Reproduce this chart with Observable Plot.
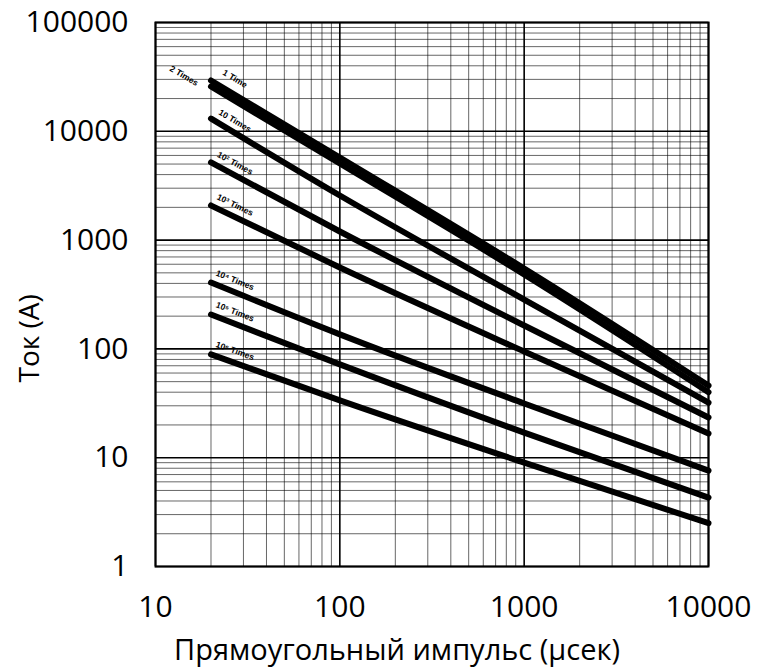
<!DOCTYPE html>
<html><head><meta charset="utf-8">
<script src="https://cdn.jsdelivr.net/npm/d3@7"></script>
<script src="https://cdn.jsdelivr.net/npm/@observablehq/plot@0.6"></script>
<style>body{margin:0;background:#fff;}</style>
</head><body><div id="chart"></div>
<script>
// Pulse width (µs) sample points
const pulseWidths = [20, 100, 1000, 10000];
// Series names
const seriesNames = ["1 Time", "2 Times", "10 Times", "10² Times", "10³ Times", "10⁴ Times", "10⁵ Times", "10⁶ Times"];
// Current (A) for each series at the pulse widths above
const time1    = [29300, 5740, 548, 46];
const times2   = [25800, 5060, 483, 40];
const times10  = [13100, 2570, 284, 32];
const times1e2 = [5170, 1200, 164, 23.4];
const times1e3 = [2080, 560, 94.6, 16.7];
const times1e4 = [407, 136, 31.5, 7.6];
const times1e5 = [207, 72, 17, 4.3];
const times1e6 = [89, 33.6, 9.0, 2.5];
// Tick labels
const xTicks = [10, 100, 1000, 10000];
const yTicks = [1, 10, 100, 1000, 10000, 100000];
const xTitle = "Прямоугольный импульс (µсек)";
const yTitle = "Ток (А)";

const allSeries = [time1, times2, times10, times1e2, times1e3, times1e4, times1e5, times1e6];
const rows = [];
allSeries.forEach((vals, i) => vals.forEach((v, j) => rows.push({series: seriesNames[i], t: pulseWidths[j], i: v})));

// minor grid values
const minor = (ticks) => {
  const out = [];
  for (let k = 0; k < ticks.length - 1; k++) for (let m = 2; m <= 9; m++) out.push(ticks[k] * m);
  return out;
};
const xMinor = minor(xTicks), yMinor = minor(yTicks);

// label placement (style): along each curve near its start
const labelT = 27;
const pxPerDecX = 553 / 3, pxPerDecY = 544 / 5;
const labelStyle = {"1 Time": {dx: 0, dy: -16}, "2 Times": {dx: -51, dy: -25}};
const labels = allSeries.map((vals, i) => {
  const l0 = Math.log10(vals[0]), l1 = Math.log10(vals[1]);
  const f = (Math.log10(labelT) - Math.log10(pulseWidths[0])) / (Math.log10(pulseWidths[1]) - Math.log10(pulseWidths[0]));
  const slope = (l1 - l0) / (Math.log10(pulseWidths[1]) - Math.log10(pulseWidths[0]));
  const st = labelStyle[seriesNames[i]] || {dx: 0, dy: -12};
  return {text: seriesNames[i], t: labelT, i: Math.pow(10, l0 + f * (l1 - l0)),
          rot: Math.atan(-slope * pxPerDecY / pxPerDecX) * 180 / Math.PI, dx: st.dx, dy: st.dy};
});

const chart = Plot.plot({
  width: 757, height: 670,
  marginLeft: 155, marginRight: 49, marginTop: 22, marginBottom: 104,
  style: {fontFamily: "'Open Sans', sans-serif", background: "#fff", color: "#000"},
  x: {type: "log", domain: [10, 10000], axis: null},
  y: {type: "log", domain: [1, 100000], axis: null},
  marks: [
    Plot.ruleX(xMinor, {stroke: "#000", strokeOpacity: 0.6, strokeWidth: 1}),
    Plot.ruleY(yMinor, {stroke: "#000", strokeOpacity: 0.6, strokeWidth: 1}),
    Plot.ruleX(xTicks, {stroke: "#000", strokeWidth: 1.6}),
    Plot.ruleY(yTicks, {stroke: "#000", strokeWidth: 1.6}),
    Plot.frame({stroke: "#000", strokeWidth: 2}),
    Plot.line(rows, {x: "t", y: "i", z: "series", stroke: "#000", strokeWidth: 6, curve: "monotone-x"}),
    ...labels.map(d => Plot.text([d], {x: "t", y: "i", text: "text", rotate: d.rot, dx: d.dx, dy: d.dy,
      fontSize: 8.5, fontWeight: "bold", fontFamily: "Liberation Sans, Arial, sans-serif", fill: "#000"})),
    Plot.axisX(xTicks, {tickSize: 0, tickPadding: 29, fontSize: 30, tickFormat: d => String(d), label: null}),
    Plot.axisY(yTicks, {tickSize: 0, tickPadding: 27, fontSize: 30, tickFormat: d => String(d), label: null}),
    Plot.text([xTitle], {frameAnchor: "bottom", dx: -35, dy: 84, fontSize: 29, lineAnchor: "middle"}),
    Plot.text([{label: yTitle, t: 10, i: 125}], {x: "t", y: "i", text: "label", dx: -125, rotate: -90, fontSize: 28, lineAnchor: "middle", clip: false})
  ]
});
document.getElementById("chart").appendChild(chart);
</script>
</body></html>
